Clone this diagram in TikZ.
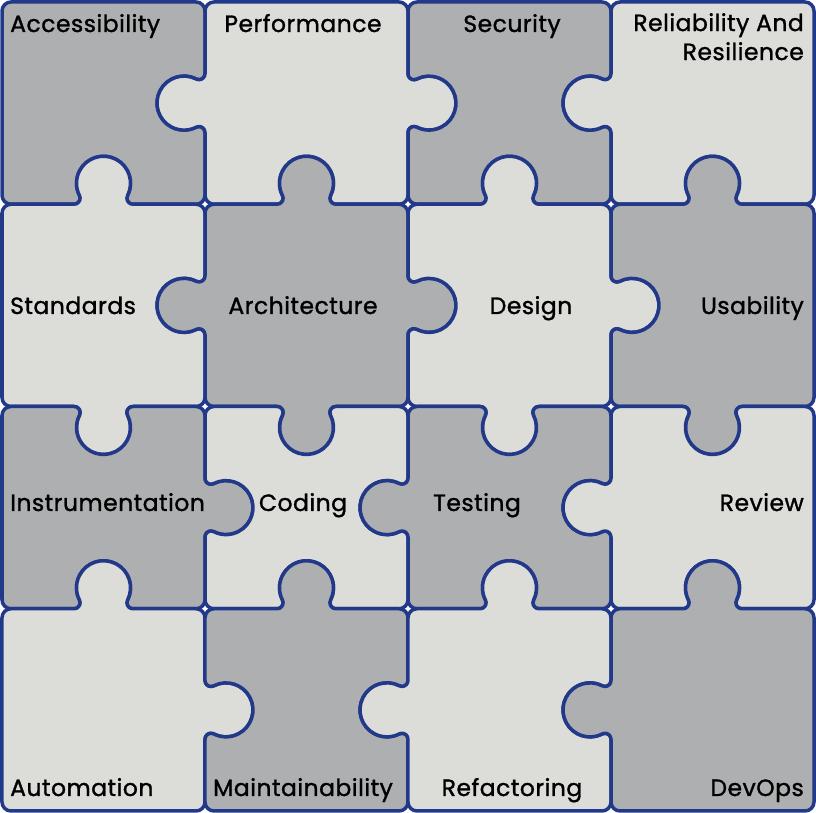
\documentclass[tikz,border=0pt]{standalone}
\usepackage{fontspec}
\setmainfont{Poppins}[FakeBold=1.2, LetterSpace=2]

\definecolor{pzline}{HTML}{22398A}
\definecolor{pzdark}{HTML}{AEAFB1}
\definecolor{pzlight}{HTML}{DCDDD9}

% cell size, corner radius, knob fillet/head radius, knob angle, knob half span
\def\cw{203}
\def\ch{202.25}
\def\rc{9}
\def\kf{6}
\def\kr{27}
\def\kb{27}
\def\ka{29.4}

% piece at lower left (#1,#2), fill #3, edges bottom/right/top/left: f, o or i
\newcommand{\piece}[7]{%
  \draw[piece, fill=#3] ({#1+\rc},#2) [e#4={0}{\cw}]
    arc[start angle=-90, end angle=0, radius=\rc] [e#5={90}{\ch}]
    arc[start angle=0, end angle=90, radius=\rc] [e#6={180}{\cw}]
    arc[start angle=90, end angle=180, radius=\rc] [e#7={270}{\ch}]
    arc[start angle=180, end angle=270, radius=\rc] -- cycle;}

\begin{document}
\begin{tikzpicture}[
  x=1pt, y=1pt,
  font=\fontsize{23.5}{29}\selectfont,
  piece/.style={draw=pzline, line width=3.5pt, line join=round},
  ef/.style 2 args={insert path={-- ++({#1}:{#2-2*\rc})}},
  eo/.style 2 args={insert path={-- ++({#1}:{#2/2-\rc-\ka})
    arc[start angle={#1+90}, end angle={#1-\kb}, radius=\kf]
    arc[start angle={#1-180-\kb}, end angle={#1+\kb}, radius=\kr]
    arc[start angle={#1+180+\kb}, end angle={#1+90}, radius=\kf]
    -- ++({#1}:{#2/2-\rc-\ka})}},
  ei/.style 2 args={insert path={-- ++({#1}:{#2/2-\rc-\ka})
    arc[start angle={#1-90}, end angle={#1+\kb}, radius=\kf]
    arc[start angle={#1+180+\kb}, end angle={#1-\kb}, radius=\kr]
    arc[start angle={#1-180-\kb}, end angle={#1-90}, radius=\kf]
    -- ++({#1}:{#2/2-\rc-\ka})}},
  lbl/.style={inner sep=0pt, text=black},
]
\useasboundingbox (0,0) rectangle (816,813);

% row 1
\piece{2}{608.75}{pzdark}{i}{i}{f}{f}
\piece{205}{608.75}{pzlight}{i}{o}{f}{o}
\piece{408}{608.75}{pzdark}{i}{i}{f}{i}
\piece{611}{608.75}{pzlight}{i}{f}{f}{o}
% row 2
\piece{2}{406.5}{pzlight}{o}{i}{o}{f}
\piece{205}{406.5}{pzdark}{o}{o}{o}{o}
\piece{408}{406.5}{pzlight}{o}{o}{o}{i}
\piece{611}{406.5}{pzdark}{o}{f}{o}{i}
% row 3
\piece{2}{204.25}{pzdark}{i}{o}{i}{f}
\piece{205}{204.25}{pzlight}{i}{i}{i}{i}
\piece{408}{204.25}{pzdark}{i}{i}{i}{o}
\piece{611}{204.25}{pzlight}{i}{f}{i}{o}
% row 4
\piece{2}{2}{pzlight}{f}{o}{o}{f}
\piece{205}{2}{pzdark}{f}{i}{o}{i}
\piece{408}{2}{pzlight}{f}{i}{o}{o}
\piece{611}{2}{pzdark}{f}{f}{o}{o}

\node[lbl, anchor=base west] (access) at (10,781) {Accessibility};
\node[lbl, anchor=base] (perf) at (303,781) {Performance};
\node[lbl, anchor=base] (secur) at (512,781) {Security};
\node[lbl, anchor=north east, align=right] (relia) at (804,800) {Reliability And\\Resilience};

\node[lbl, anchor=base west] (stand) at (10,499) {Standards};
\node[lbl, anchor=base] (archi) at (303,499) {Architecture};
\node[lbl, anchor=base] (design) at (531,499) {Design};
\node[lbl, anchor=base east] (usab) at (804,499) {Usability};

\node[lbl, anchor=base west] (instr) at (10,302) {Instrumentation};
\node[lbl, anchor=base] (coding) at (303,302) {Coding};
\node[lbl, anchor=base] (testing) at (477,302) {Testing};
\node[lbl, anchor=base east] (review) at (804,302) {Review};

\node[lbl, anchor=base west] (autom) at (10,17) {Automation};
\node[lbl, anchor=base] (maint) at (303,17) {Maintainability};
\node[lbl, anchor=base] (refac) at (512,17) {Refactoring};
\node[lbl, anchor=base east] (devops) at (804,17) {DevOps};
\end{tikzpicture}
\end{document}
